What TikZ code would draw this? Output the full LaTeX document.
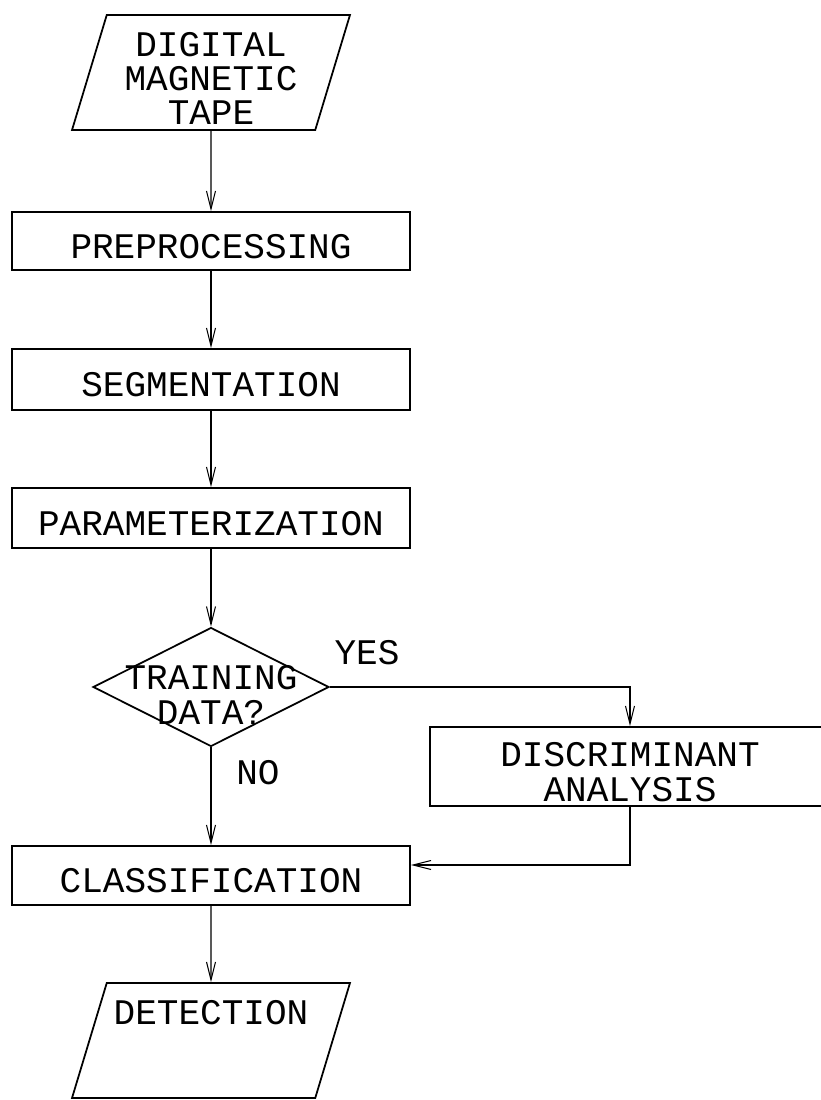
\documentclass[tikz,border=0pt]{standalone}
\usepackage{fontspec}
\setmonofont{Liberation Mono}
\usetikzlibrary{shapes.geometric, arrows.meta, positioning}

\begin{document}
\begin{tikzpicture}[
  x=0.02cm, y=-0.02cm,
  font=\ttfamily\fontsize{20.5}{19.5}\selectfont,
  box/.style={draw, line width=1pt, minimum width=7.96cm, minimum height=1.2cm, align=center, inner sep=0pt, text height=0.68cm, text depth=0pt},
  tape/.style={draw, line width=1pt, trapezium, trapezium left angle=71.7, trapezium right angle=108.3, trapezium stretches body=true, minimum width=5.56cm, minimum height=2.3cm, align=center, inner sep=0pt, text height=2.1cm, text depth=0pt},
  decide/.style={draw, line width=1pt, diamond, minimum width=4.72cm, minimum height=2.38cm, align=center, inner sep=0pt, text height=1.48cm, text depth=0pt},
  arr/.style={-{Straight Barb[length=3.6mm, width=1.8mm]}, line width=0.6pt}
]

\useasboundingbox (0,0) rectangle (821,1100);

\node[tape] (input) at (211,72.5) {DIGITAL\\MAGNETIC\\TAPE};
\node[box, minimum height=1.16cm] (prep) at (211,241) {PREPROCESSING};
\node[box, minimum height=1.22cm] (seg) at (211,379.5) {SEGMENTATION};
\node[box] (param) at (211,518) {PARAMETERIZATION};
\node[decide] (train) at (211,687) {\makebox[0pt]{TRAINING}\\\makebox[0pt]{DATA?}};
\node[box, minimum width=8cm, minimum height=1.58cm, text height=1.38cm] (disc) at (630,766.5) {DISCRIMINANT\\ANALYSIS};
\node[box, minimum height=1.18cm] (class) at (211,875.5) {CLASSIFICATION};
\node[tape] (output) at (211,1040.5) {DETECTION\\\mbox{}\\\mbox{}};
\node (yes) at (367,653) {YES};
\node (no) at (258,773) {NO};

\draw[arr] (input) -- (prep);
\draw[arr] (prep) -- (seg);
\draw[arr] (seg) -- (param);
\draw[arr] (param) -- (train);
\draw[arr] (train.east) -| (disc.north);
\draw[arr] (train) -- (class);
\coordinate (join) at (630,865);
\draw[arr] (disc.south) -- (join) -- (join -| class.east);
\draw[arr] (class) -- (output);

\end{tikzpicture}
\end{document}
